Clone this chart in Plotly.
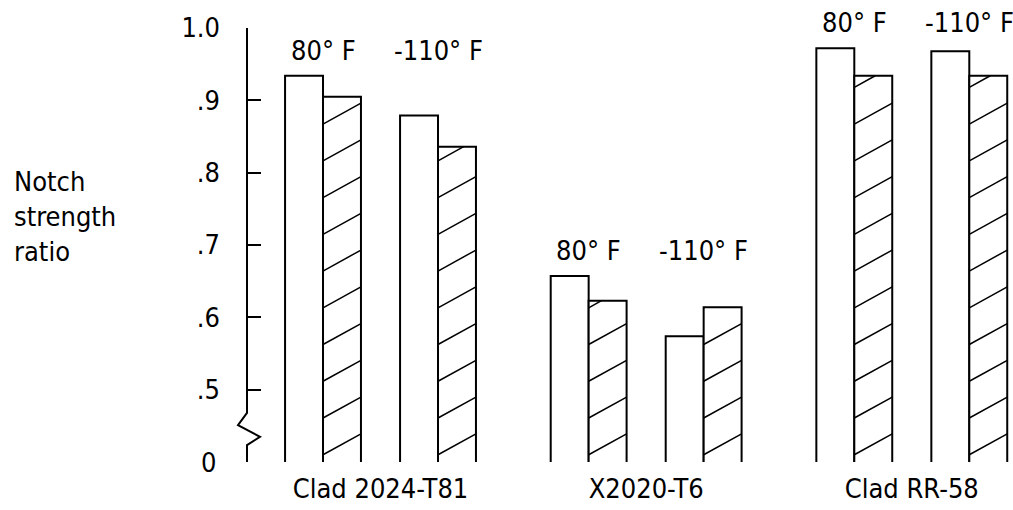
import plotly.graph_objects as go

# ---------------- data ----------------
materials = ["Clad 2024-T81", "X2020-T6", "Clad RR-58"]
temps = ["80° F", "-110° F"]
# open (white) bars, per material: [80 F, -110 F]
open_vals = [[0.934, 0.879], [0.657, 0.574], [0.972, 0.968]]
# hatched bars, per material: [80 F, -110 F]
hatched_vals = [[0.905, 0.836], [0.623, 0.614], [0.934, 0.934]]
y_tick_vals = [0.5, 0.6, 0.7, 0.8, 0.9, 1.0]
y_tick_text = [".5", ".6", ".7", ".8", ".9", "1.0"]
y_zero_label = "0"
axis_break_value = 0.4   # axis is broken: the "0" sits where 0.4 would be

# ---------------- layout constants ----------------
GROUP_STEP = 2.31
PAIR_STEP = 1.0
BAR_W = 0.33
FONT = "Liberation Sans Narrow, DejaVu Sans Condensed, Arial Narrow, sans-serif"
FS = 27

pair_x, open_y, hatch_y = [], [], []
for g in range(len(materials)):
    for t in range(len(temps)):
        pair_x.append(g * GROUP_STEP + t * PAIR_STEP)
        open_y.append(open_vals[g][t])
        hatch_y.append(hatched_vals[g][t])

fig = go.Figure()
fig.add_trace(go.Bar(
    x=pair_x, y=open_y, width=BAR_W, offset=-BAR_W,
    marker=dict(color="white", line=dict(color="black", width=2)),
    showlegend=False, hoverinfo="skip"))
fig.add_trace(go.Bar(
    x=pair_x, y=hatch_y, width=BAR_W, offset=0,
    marker=dict(color="white", line=dict(color="black", width=2)),
    showlegend=False, hoverinfo="skip"))

# hatching lines inside the hatched bars (drawn in data coordinates)
SP = 0.0508   # vertical spacing between hatch lines
RISE = 0.029  # rise of a hatch line across the bar width
PHASE = 0.010
hx, hy = [], []
for xc, v in zip(pair_x, hatch_y):
    xl, xr = xc, xc + BAR_W
    k = -1
    while True:
        yl = axis_break_value + PHASE + k * SP
        if yl >= v:
            break
        yr = yl + RISE
        if yr > v:
            xe = xl + (v - yl) / RISE * BAR_W
            ye = v
        else:
            xe, ye = xr, yr
        hx += [xl, xe, None]
        hy += [yl, ye, None]
        k += 1
fig.add_trace(go.Scatter(x=hx, y=hy, mode="lines",
                         line=dict(color="black", width=1.5),
                         showlegend=False, hoverinfo="skip"))

# temperature labels above each pair
for g in range(len(materials)):
    top = max(open_vals[g] + hatched_vals[g])
    for t in range(len(temps)):
        fig.add_annotation(x=g * GROUP_STEP + t * PAIR_STEP, y=top,
                           text=temps[t], showarrow=False,
                           xanchor="center", yanchor="bottom", yshift=8,
                           font=dict(family=FONT, size=FS, color="black"))

# y-axis title
fig.add_annotation(xref="paper", yref="paper", x=-0.308, y=0.565,
                   xanchor="left", yanchor="middle", align="left",
                   text="Notch<br>strength<br>ratio", showarrow=False,
                   font=dict(family=FONT, size=FS, color="black"))

# "0" label at the bottom of the broken axis
fig.add_annotation(xref="paper", yref="y", x=0, y=axis_break_value,
                   xanchor="right", yanchor="middle", xshift=-29,
                   text=y_zero_label, showarrow=False,
                   font=dict(family=FONT, size=FS, color="black"))

# y axis line with a break symbol near the bottom
fig.add_shape(type="path", xref="paper", yref="paper",
              xsizemode="pixel", xanchor=0,
              path="M0,1 L0,0.113 L-9,0.085 L13,0.058 L0,0.039 L0,0",
              line=dict(color="black", width=2), layer="above")

group_centers = [g * GROUP_STEP + PAIR_STEP / 2 for g in range(len(materials))]

fig.update_layout(
    width=1013, height=510,
    margin=dict(l=247, r=3, t=28, b=48),
    paper_bgcolor="white", plot_bgcolor="white",
    barmode="overlay",
    font=dict(family=FONT, size=FS, color="black"),
    xaxis=dict(range=[-0.661, 5.974], tickvals=group_centers, ticktext=materials,
               showgrid=False, zeroline=False, showline=False, ticks="",
               ticklabelstandoff=8,
               tickfont=dict(family=FONT, size=FS, color="black")),
    yaxis=dict(range=[axis_break_value, 1.0], tickvals=y_tick_vals, ticktext=y_tick_text,
               showgrid=False, zeroline=False, showline=False,
               ticks="inside", ticklen=14, tickwidth=2, tickcolor="black",
               ticklabelstandoff=26,
               tickfont=dict(family=FONT, size=FS, color="black")),
)

fig.write_html("out.html")
